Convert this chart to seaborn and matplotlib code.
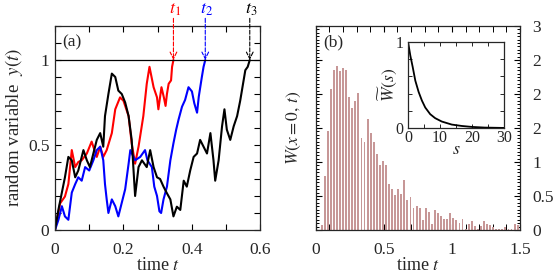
import numpy as np
import pandas as pd
import matplotlib.pyplot as plt
import seaborn as sns

sns.set_style("ticks")
plt.rcParams['font.family'] = ['Liberation Serif', 'DejaVu Serif']
plt.rcParams['mathtext.fontset'] = 'stix'
plt.rcParams['font.size'] = 12

# --- panel (a): three random paths ---
red_t = [0, 0.015, 0.029, 0.039, 0.049, 0.059, 0.068, 0.078, 0.093, 0.107, 0.122, 0.132,
         0.141, 0.151, 0.166, 0.176, 0.19, 0.2, 0.215, 0.224, 0.234, 0.244, 0.258, 0.268,
         0.276, 0.288, 0.298, 0.302, 0.311, 0.318, 0.323, 0.327, 0.332, 0.339, 0.342, 0.346]
red_y = [0, 0.157, 0.197, 0.27, 0.47, 0.37, 0.40, 0.41, 0.45, 0.52, 0.43, 0.49,
         0.43, 0.47, 0.57, 0.71, 0.78, 0.76, 0.67, 0.51, 0.39, 0.49, 0.67, 0.86,
         0.96, 0.84, 0.78, 0.71, 0.84, 0.78, 0.73, 0.80, 0.86, 0.88, 0.96, 1.0]

blue_t = [0, 0.01, 0.02, 0.029, 0.039, 0.049, 0.059, 0.068, 0.078, 0.088, 0.1, 0.112,
          0.122, 0.132, 0.141, 0.146, 0.151, 0.156, 0.166, 0.176, 0.185, 0.195, 0.205,
          0.215, 0.22, 0.234, 0.249, 0.263, 0.27, 0.283, 0.29, 0.298, 0.305, 0.31, 0.317,
          0.327, 0.337, 0.346, 0.354, 0.361, 0.371, 0.38, 0.39, 0.4, 0.407, 0.415, 0.42,
          0.429, 0.434, 0.439]
blue_y = [0, 0.06, 0.14, 0.08, 0.06, 0.22, 0.27, 0.31, 0.29, 0.37, 0.35, 0.41,
          0.47, 0.49, 0.41, 0.27, 0.18, 0.10, 0.18, 0.14, 0.08, 0.16, 0.24,
          0.39, 0.47, 0.41, 0.43, 0.47, 0.41, 0.37, 0.255, 0.20, 0.11, 0.10, 0.18,
          0.255, 0.41, 0.51, 0.59, 0.65, 0.725, 0.765, 0.84, 0.815, 0.745, 0.69, 0.784,
          0.90, 0.96, 1.0]

black_t = [0, 0.01, 0.02, 0.029, 0.039, 0.049, 0.059, 0.068, 0.083, 0.093, 0.102, 0.112,
           0.122, 0.132, 0.141, 0.146, 0.156, 0.166, 0.176, 0.185, 0.195, 0.205, 0.215,
           0.224, 0.234, 0.244, 0.254, 0.268, 0.278, 0.288, 0.298, 0.307, 0.317, 0.327,
           0.337, 0.346, 0.356, 0.366, 0.376, 0.385, 0.395, 0.405, 0.415, 0.424, 0.434,
           0.444, 0.454, 0.463, 0.468, 0.478, 0.488, 0.495, 0.502, 0.512, 0.522, 0.532,
           0.541, 0.551, 0.556, 0.563, 0.569]
black_y = [0, 0.12, 0.22, 0.31, 0.43, 0.41, 0.31, 0.35, 0.47, 0.41, 0.37, 0.45,
           0.53, 0.57, 0.49, 0.67, 0.80, 0.92, 0.90, 0.82, 0.80, 0.75, 0.67,
           0.53, 0.20, 0.37, 0.41, 0.37, 0.47, 0.37, 0.31, 0.30, 0.255, 0.216,
           0.18, 0.08, 0.137, 0.118, 0.29, 0.255, 0.35, 0.43, 0.45, 0.53, 0.49,
           0.45, 0.57, 0.41, 0.29, 0.41, 0.61, 0.71, 0.59, 0.53, 0.61, 0.67,
           0.76, 0.88, 0.94, 0.96, 1.0]

hit_times = [0.346, 0.439, 0.569]
hit_labels = ['$t_1$', '$t_2$', '$t_3$']
path_colors = ['#ff0000', '#0000ff', '#000000']

# --- panel (b): histogram of hitting times ---
bin_w = 0.0225
t_centers = np.round(0.043 + bin_w * np.arange(65), 4)
w_counts = [0.08, 0.80, 1.45, 2.07, 2.36, 2.41, 2.34, 2.38, 2.35, 1.96, 1.80, 1.90, 2.02,
            1.36, 1.29, 1.63, 1.43, 1.29, 1.12, 0.96, 1.02, 0.96,
            0.67, 0.60, 0.51, 0.60, 0.53, 0.74, 0.44, 0.48, 0.33, 0.35, 0.33, 0.14, 0.33,
            0.27, 0.09, 0.29, 0.25, 0.20, 0.16, 0.16, 0.25, 0.18, 0.15,
            0.11, 0.16, 0.02, 0.09, 0.13, 0.06, 0.01, 0.06, 0.13, 0.09, 0.07, 0.04, 0.01,
            0.01, 0.02, 0.04, 0.02, 0.01, 0.09, 0.07]

# inset: Laplace transform
s_vals = [0, 0.72, 1.45, 2.28, 3.31, 4.34, 5.38, 6.93, 8.48, 10.55, 13.66, 16.76, 19.86, 24, 30]
ws_vals = [1.0, 0.84, 0.71, 0.55, 0.42, 0.32, 0.24, 0.163, 0.117, 0.078, 0.043, 0.027,
           0.016, 0.008, 0.004]

fig = plt.figure(figsize=(5.54, 2.74), dpi=100)
ax1 = fig.add_axes([0.0993, 0.1606, 0.3707, 0.7445])
ax2 = fig.add_axes([0.570, 0.1606, 0.3686, 0.7445])
ax3 = fig.add_axes([0.7365, 0.5318, 0.1733, 0.3160])

tick_kw = dict(direction='in', top=True, right=True, length=4, width=0.8, color='black',
               labelsize=12.5, pad=4)

# (a)
for tt, yy, c in zip([red_t, blue_t, black_t], [red_y, blue_y, black_y], path_colors):
    sns.lineplot(x=tt, y=yy, color=c, lw=1.5, ax=ax1, sort=False)
ax1.axhline(1.0, color='black', lw=0.9)
for th, lab, c in zip(hit_times, hit_labels, path_colors):
    ax1.annotate('', xy=(th, 1.0), xytext=(th, 1.245), annotation_clip=False,
                 arrowprops=dict(arrowstyle='->', ls='--', color=c, lw=0.8,
                                 shrinkA=0, shrinkB=0))
    ax1.text(th + 0.004, 1.295, lab, color=c, ha='center', va='center', fontsize=13,
             clip_on=False)
ax1.set_xlim(0, 0.6)
ax1.set_ylim(0, 1.2)
ax1.set_xticks(np.arange(0, 0.61, 0.2))
ax1.set_xticklabels(['0', '0.2', '0.4', '0.6'])
ax1.set_xticks(np.arange(0, 0.61, 0.1), minor=True)
ax1.set_yticks([0, 0.5, 1])
ax1.set_yticklabels(['0', '0.5', '1'])
ax1.set_yticks(np.arange(0, 1.21, 0.1), minor=True)
ax1.tick_params(which='both', **tick_kw)
ax1.tick_params(axis='x', pad=9)
ax1.set_xlabel('time $t$', fontsize=13, labelpad=-1)
ax1.set_ylabel('random variable  $y(t)$', fontsize=13.5, labelpad=2)
ax1.text(0.035, 0.92, '(a)', transform=ax1.transAxes, ha='left', va='center', fontsize=12.5)

# (b)
hist_df = pd.DataFrame({'t': t_centers, 'w': w_counts})
sns.barplot(data=hist_df, x='t', y='w', native_scale=True, width=0.62, color='#c79797',
            saturation=1, errorbar=None, linewidth=0, edgecolor='none', ax=ax2)
ax2.set_xlim(0, 1.5)
ax2.set_ylim(0, 3)
ax2.set_xticks([0, 0.5, 1, 1.5])
ax2.set_xticklabels(['0', '0.5', '1', '1.5'])
ax2.set_xticks(np.arange(0, 1.51, 0.1), minor=True)
ax2.set_yticks(np.arange(0, 3.01, 0.5))
ax2.set_yticks(np.arange(0, 3.01, 0.05), minor=True)
ax2.tick_params(which='major', **tick_kw)
ax2.tick_params(which='minor', direction='in', top=True, right=True, length=2.5,
                width=0.7, color='black')
ax2.tick_params(axis='x', which='minor', length=4)
ax2.tick_params(axis='x', pad=9)
ax2.tick_params(axis='y', labelleft=False, labelright=True, pad=9)
ax2.set_yticklabels(['0', '0.5', '1', '2', '2', '2', '3'])
ax2.set_xlabel('time $t$', fontsize=13, labelpad=-1)
ax2.set_ylabel('$W(x = 0,\\, t)$', fontsize=12.5, labelpad=6)
ax2.yaxis.set_label_position('left')
ax2.text(0.035, 0.92, '(b)', transform=ax2.transAxes, ha='left', va='center', fontsize=12.5)

# inset
sns.lineplot(x=s_vals, y=ws_vals, color='black', lw=1.3, ax=ax3)
ax3.set_xlim(0, 30)
ax3.set_ylim(0, 1)
ax3.set_xticks([0, 10, 20, 30])
ax3.set_xticks(np.arange(0, 31, 5), minor=True)
ax3.set_yticks([0, 1])
ax3.set_yticklabels(['0', '1'])
ax3.set_yticks(np.arange(0, 1.01, 0.2), minor=True)
ax3.tick_params(which='both', direction='in', top=True, right=True, length=3,
                width=0.7, labelsize=11.5)
ax3.tick_params(axis='x', pad=1.5)
ax3.tick_params(axis='y', pad=3)
ax3.set_xlabel('$s$', fontsize=13, labelpad=-4)
ax3.set_ylabel('$\\widetilde{W}(s)$', fontsize=12.5, labelpad=-2)

for ax in (ax1, ax2, ax3):
    for sp in ax.spines.values():
        sp.set_linewidth(0.9)
        sp.set_visible(True)

fig.savefig('out.png', dpi=100)
